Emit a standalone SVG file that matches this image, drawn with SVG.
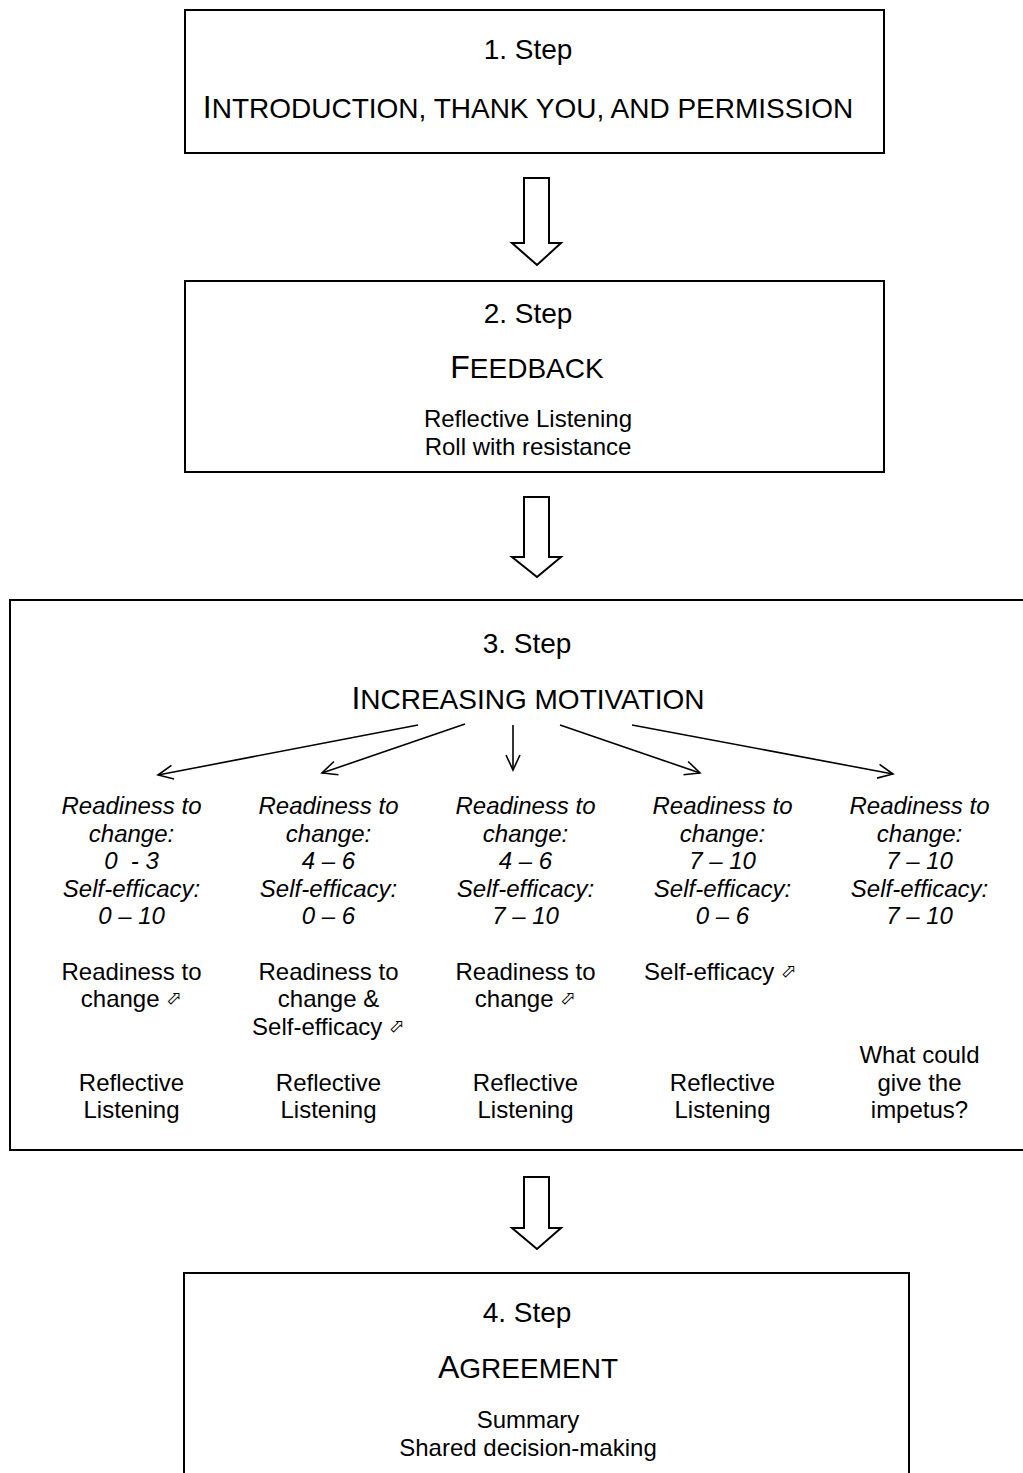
<svg xmlns="http://www.w3.org/2000/svg" width="1023" height="1473" viewBox="0 0 1023 1473">
<style>
  text { font-family: "Liberation Sans", Arial, sans-serif; fill: #000; text-anchor: middle; }
  .box { fill: #fff; stroke: #000; stroke-width: 2; }
  .step { font-size: 28px; }
  .big { font-size: 32px; }
  .sc { font-size: 28px; }
  .body { font-size: 24px; }
  .it { font-size: 24px; font-style: italic; }
  .sym { font-family: "DejaVu Sans", sans-serif; font-size: 19px; }
  .blk { fill: #fff; stroke: #000; stroke-width: 2; stroke-linejoin: miter; }
  .con { stroke: #000; stroke-width: 1.6; fill: none; marker-end: url(#v); }
</style>
<defs>
  <marker id="v" markerWidth="20" markerHeight="20" viewBox="-16 -10 20 20" refX="0" refY="0" orient="auto" markerUnits="userSpaceOnUse">
    <path d="M-15,-7 L0,0 L-15,7" fill="none" stroke="#000" stroke-width="1.6"/>
  </marker>
</defs>
<rect width="1023" height="1473" fill="#fff"/>

<g id="step1">
  <rect class="box" x="185" y="10" width="699" height="143"/>
  <text class="step" x="528" y="59">1. Step</text>
  <text x="528" y="118"><tspan class="big">I</tspan><tspan class="sc">NTRODUCTION, THANK YOU, AND PERMISSION</tspan></text>
</g>

<g id="step2">
  <rect class="box" x="185" y="281" width="699" height="191"/>
  <text class="step" x="528" y="323">2. Step</text>
  <text x="527" y="378"><tspan class="big">F</tspan><tspan class="sc">EEDBACK</tspan></text>
  <text class="body" x="528" y="427">Reflective Listening</text>
  <text class="body" x="528" y="455">Roll with resistance</text>
</g>

<g id="step3">
  <rect class="box" x="10" y="600" width="1030" height="550"/>
  <text class="step" x="527" y="653">3. Step</text>
  <text x="528" y="709"><tspan class="big">I</tspan><tspan class="sc">NCREASING MOTIVATION</tspan></text>
</g>

<g id="col1">
  <text class="it" x="131.5" y="814">Readiness to</text>
  <text class="it" x="131.5" y="841.5">change:</text>
  <text class="it" x="131.5" y="869" xml:space="preserve">0  - 3</text>
  <text class="it" x="131.5" y="896.5">Self-efficacy:</text>
  <text class="it" x="131.5" y="924">0 – 10</text>
  <text class="body" x="131.5" y="980">Readiness to</text>
  <text class="body" x="131.5" y="1007">change <tspan class="sym" dy="-3">⬀</tspan></text>
  <text class="body" x="131.5" y="1091">Reflective</text>
  <text class="body" x="131.5" y="1118">Listening</text>
</g>

<g id="col2">
  <text class="it" x="328.5" y="814">Readiness to</text>
  <text class="it" x="328.5" y="841.5">change:</text>
  <text class="it" x="328.5" y="869">4 – 6</text>
  <text class="it" x="328.5" y="896.5">Self-efficacy:</text>
  <text class="it" x="328.5" y="924">0 – 6</text>
  <text class="body" x="328.5" y="980">Readiness to</text>
  <text class="body" x="328.5" y="1007">change &amp;</text>
  <text class="body" x="328.5" y="1035">Self-efficacy <tspan class="sym" dy="-3">⬀</tspan></text>
  <text class="body" x="328.5" y="1091">Reflective</text>
  <text class="body" x="328.5" y="1118">Listening</text>
</g>

<g id="col3">
  <text class="it" x="525.5" y="814">Readiness to</text>
  <text class="it" x="525.5" y="841.5">change:</text>
  <text class="it" x="525.5" y="869">4 – 6</text>
  <text class="it" x="525.5" y="896.5">Self-efficacy:</text>
  <text class="it" x="525.5" y="924">7 – 10</text>
  <text class="body" x="525.5" y="980">Readiness to</text>
  <text class="body" x="525.5" y="1007">change <tspan class="sym" dy="-3">⬀</tspan></text>
  <text class="body" x="525.5" y="1091">Reflective</text>
  <text class="body" x="525.5" y="1118">Listening</text>
</g>

<g id="col4">
  <text class="it" x="722.5" y="814">Readiness to</text>
  <text class="it" x="722.5" y="841.5">change:</text>
  <text class="it" x="722.5" y="869">7 – 10</text>
  <text class="it" x="722.5" y="896.5">Self-efficacy:</text>
  <text class="it" x="722.5" y="924">0 – 6</text>
  <text class="body" x="720.5" y="980">Self-efficacy <tspan class="sym" dy="-3">⬀</tspan></text>
  <text class="body" x="722.5" y="1091">Reflective</text>
  <text class="body" x="722.5" y="1118">Listening</text>
</g>

<g id="col5">
  <text class="it" x="919.5" y="814">Readiness to</text>
  <text class="it" x="919.5" y="841.5">change:</text>
  <text class="it" x="919.5" y="869">7 – 10</text>
  <text class="it" x="919.5" y="896.5">Self-efficacy:</text>
  <text class="it" x="919.5" y="924">7 – 10</text>
  <text class="body" x="919.5" y="1063">What could</text>
  <text class="body" x="919.5" y="1091">give the</text>
  <text class="body" x="919.5" y="1118">impetus?</text>
</g>

<g id="step4">
  <rect class="box" x="184" y="1273" width="725" height="240"/>
  <text class="step" x="527" y="1322">4. Step</text>
  <text x="528" y="1378"><tspan class="big">A</tspan><tspan class="sc">GREEMENT</tspan></text>
  <text class="body" x="528" y="1428">Summary</text>
  <text class="body" x="528" y="1456">Shared decision-making</text>
</g>

<g id="connectors">
  <path class="blk" d="M524,178 L549,178 L549,243 L561,243 L537,265 L512,243 L524,243 Z"/>
  <path class="blk" d="M524,497 L549,497 L549,557 L561,557 L537,577 L512,557 L524,557 Z"/>
  <path class="blk" d="M524,1177 L549,1177 L549,1228 L561,1228 L537,1249 L512,1228 L524,1228 Z"/>
  <line class="con" x1="418" y1="725" x2="158" y2="775"/>
  <line class="con" x1="465" y1="724" x2="322" y2="773"/>
  <line class="con" x1="513" y1="725" x2="513" y2="770"/>
  <line class="con" x1="560" y1="725" x2="700" y2="773"/>
  <line class="con" x1="632" y1="725" x2="893" y2="774"/>
</g>
</svg>
